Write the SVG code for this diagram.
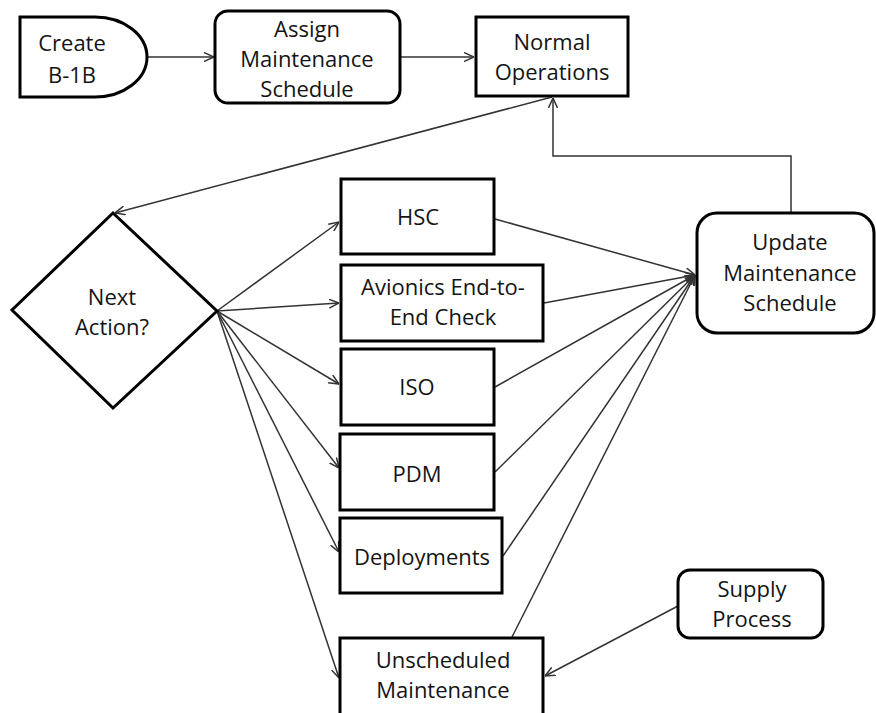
<svg xmlns="http://www.w3.org/2000/svg" width="876" height="713" viewBox="0 0 876 713">
  <style>
    .node { fill: #ffffff; stroke: #000000; stroke-width: 3; }
    .label { font-family: "Open Sans", "Noto Sans", sans-serif; font-size: 22px; fill: #141414; text-anchor: middle; }
    .conn { fill: none; stroke: #333333; stroke-width: 1.5; }
  </style>
  <defs>
    <marker id="arrow" viewBox="0 0 10 10" refX="10" refY="5" markerWidth="10" markerHeight="10" markerUnits="userSpaceOnUse" orient="auto">
      <path d="M0,0.5 L10,5 L0,9.5" fill="none" stroke="#333333" stroke-width="1.5"/>
    </marker>
  </defs>
  <rect x="0" y="0" width="876" height="713" fill="#ffffff"/>

  <g id="connectors">
    <line class="conn" x1="148" y1="57" x2="214" y2="57" marker-end="url(#arrow)"/>
    <line class="conn" x1="401" y1="57" x2="474" y2="57" marker-end="url(#arrow)"/>
    <line class="conn" x1="552" y1="97" x2="115" y2="213" marker-end="url(#arrow)"/>
    <polyline class="conn" points="791,213 791,156 553,156 553,98" marker-end="url(#arrow)"/>
    <line class="conn" x1="217" y1="311" x2="339" y2="222" marker-end="url(#arrow)"/>
    <line class="conn" x1="217" y1="311" x2="339" y2="303" marker-end="url(#arrow)"/>
    <line class="conn" x1="217" y1="311" x2="339" y2="384" marker-end="url(#arrow)"/>
    <line class="conn" x1="217" y1="311" x2="339" y2="468" marker-end="url(#arrow)"/>
    <line class="conn" x1="217" y1="311" x2="339" y2="552" marker-end="url(#arrow)"/>
    <line class="conn" x1="217" y1="311" x2="339" y2="678" marker-end="url(#arrow)"/>
    <line class="conn" x1="495" y1="219" x2="695" y2="275" marker-end="url(#arrow)"/>
    <line class="conn" x1="544" y1="303" x2="695" y2="275" marker-end="url(#arrow)"/>
    <line class="conn" x1="495" y1="387" x2="695" y2="275" marker-end="url(#arrow)"/>
    <line class="conn" x1="495" y1="472" x2="695" y2="275" marker-end="url(#arrow)"/>
    <line class="conn" x1="503" y1="556" x2="695" y2="275" marker-end="url(#arrow)"/>
    <line class="conn" x1="512" y1="637" x2="695" y2="275" marker-end="url(#arrow)"/>
    <line class="conn" x1="678" y1="606" x2="545" y2="676" marker-end="url(#arrow)"/>
  </g>

  <g id="create">
    <path class="node" d="M20,17 H95 A52,40 0 0 1 95,97 H20 Z"/>
    <text class="label" x="72" y="51">Create</text>
    <text class="label" x="72" y="83">B-1B</text>
  </g>

  <g id="assign">
    <rect class="node" x="215" y="11" width="185" height="92" rx="13"/>
    <text class="label" x="307" y="37">Assign</text>
    <text class="label" x="307" y="67">Maintenance</text>
    <text class="label" x="307" y="97">Schedule</text>
  </g>

  <g id="normal">
    <rect class="node" x="476" y="17" width="152" height="79"/>
    <text class="label" x="552" y="50">Normal</text>
    <text class="label" x="552" y="80">Operations</text>
  </g>

  <g id="next-action">
    <polygon class="node" points="113,213 217,311 113,408 12,310"/>
    <text class="label" x="112" y="305">Next</text>
    <text class="label" x="112" y="335">Action?</text>
  </g>

  <g id="hsc">
    <rect class="node" x="341" y="179" width="153" height="75"/>
    <text class="label" x="418" y="225">HSC</text>
  </g>

  <g id="avionics">
    <rect class="node" x="341" y="265" width="202" height="76"/>
    <text class="label" x="443" y="295">Avionics End-to-</text>
    <text class="label" x="443" y="325">End Check</text>
  </g>

  <g id="iso">
    <rect class="node" x="341" y="349" width="153" height="76"/>
    <text class="label" x="417" y="395">ISO</text>
  </g>

  <g id="pdm">
    <rect class="node" x="340" y="434" width="154" height="76"/>
    <text class="label" x="417" y="482">PDM</text>
  </g>

  <g id="deployments">
    <rect class="node" x="340" y="518" width="162" height="75"/>
    <text class="label" x="422" y="565">Deployments</text>
  </g>

  <g id="unscheduled">
    <rect class="node" x="340" y="638" width="203" height="80"/>
    <text class="label" x="443" y="668">Unscheduled</text>
    <text class="label" x="443" y="698">Maintenance</text>
  </g>

  <g id="update">
    <rect class="node" x="697" y="213" width="177" height="120" rx="20"/>
    <text class="label" x="790" y="250">Update</text>
    <text class="label" x="790" y="281">Maintenance</text>
    <text class="label" x="790" y="311">Schedule</text>
  </g>

  <g id="supply">
    <rect class="node" x="678" y="570" width="145" height="68" rx="12"/>
    <text class="label" x="752" y="597">Supply</text>
    <text class="label" x="752" y="627">Process</text>
  </g>
</svg>
